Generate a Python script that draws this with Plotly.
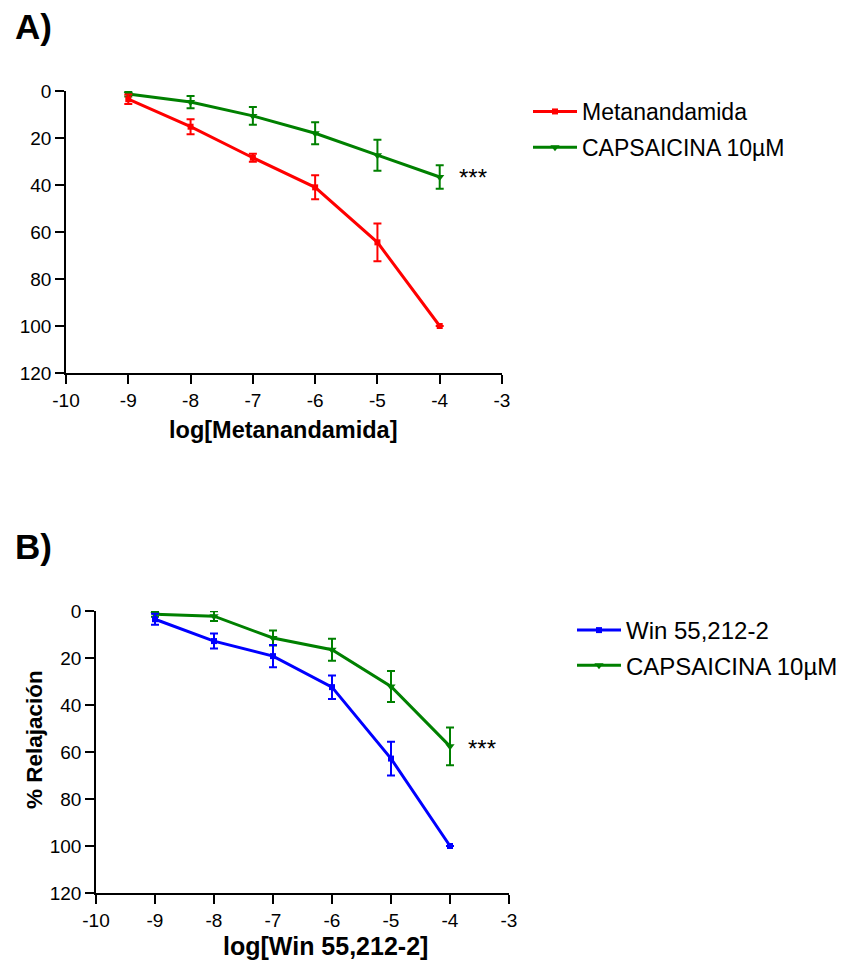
import plotly.graph_objects as go

# ---------------- data ----------------
log_conc = [-9, -8, -7, -6, -5, -4]

# Panel A
met_mean = [3.5, 15.2, 28.4, 41.0, 64.4, 100.0]
met_sem = [2.0, 3.2, 1.7, 5.1, 8.0, 0.0]
capA_mean = [1.3, 4.7, 10.6, 18.0, 27.3, 36.6]
capA_sem = [1.0, 2.6, 3.8, 4.7, 6.6, 5.0]

# Panel B
win_mean = [3.5, 12.8, 19.2, 32.4, 62.8, 100.0]
win_sem = [2.3, 3.2, 4.7, 5.0, 7.2, 0.0]
capB_mean = [1.4, 2.2, 11.5, 16.5, 32.1, 57.6]
capB_sem = [1.0, 2.1, 3.2, 4.7, 6.6, 8.0]

names_A = ["Metanandamida", "CAPSAICINA 10µM"]
names_B = ["Win 55,212-2", "CAPSAICINA 10µM"]
xtitle_A = "log[Metanandamida]"
xtitle_B = "log[Win 55,212-2]"
ytitle = "% Relajación"
x_ticks = [-10, -9, -8, -7, -6, -5, -4, -3]
x_ticktext = ["-10", "-9", "-8", "-7", "-6", "-5", "-4", "-3"]
y_ticks = [0, 20, 40, 60, 80, 100, 120]

RED = "#FF0000"
GREEN = "#008000"
BLUE = "#0000FF"
FONT = "Liberation Sans, Arial, sans-serif"

# page body has an 8px default margin: the figure sits at (8, 8)
OFF = 8
W, H = 844 - OFF, 963 - OFF


def px_x(p):
    return (p - OFF) / W


def px_y(p):
    return 1 - (p - OFF) / H


fig = go.Figure()


def add_series(x, y, e, name, color, symbol, msize, xa, ya, legend, rank):
    fig.add_trace(go.Scatter(
        x=x, y=y, name=name, mode="lines+markers",
        line=dict(color=color, width=3),
        marker=dict(color=color, symbol=symbol, size=msize),
        error_y=dict(type="data", array=e, visible=True, color=color,
                     thickness=2, width=4),
        xaxis=xa, yaxis=ya, legend=legend, legendrank=rank,
        legendgroup=legend + name,
    ))


# green drawn first (under), legend order via legendrank
add_series(log_conc, capA_mean, capA_sem, names_A[1], GREEN, "triangle-down", 8, "x", "y", "legend", 2)
add_series(log_conc, met_mean, met_sem, names_A[0], RED, "square", 6, "x", "y", "legend", 1)
add_series(log_conc, capB_mean, capB_sem, names_B[1], GREEN, "triangle-down", 8, "x2", "y2", "legend2", 2)
add_series(log_conc, win_mean, win_sem, names_B[0], BLUE, "square", 6, "x2", "y2", "legend2", 1)

axis_common = dict(
    showline=True, linecolor="black", linewidth=1.5,
    ticks="outside", ticklen=9, tickwidth=1.5, tickcolor="black",
    showgrid=False, zeroline=False, automargin=False,
    tickfont=dict(family=FONT, size=19, color="black"),
)

fig.update_layout(
    width=W, height=H,
    margin=dict(l=0, r=0, t=0, b=0, autoexpand=False),
    paper_bgcolor="white", plot_bgcolor="white",
    font=dict(family=FONT, color="black"),
    xaxis=dict(domain=[px_x(66), px_x(502)], range=[-10, -3], tickvals=x_ticks,
               ticktext=x_ticktext, anchor="y", **axis_common),
    yaxis=dict(domain=[px_y(373), px_y(91)], range=[120, 0], tickvals=y_ticks,
               anchor="x", **axis_common),
    xaxis2=dict(domain=[px_x(96), px_x(509)], range=[-10, -3], tickvals=x_ticks,
                ticktext=x_ticktext, anchor="y2", **axis_common),
    yaxis2=dict(domain=[px_y(893), px_y(611)], range=[120, 0], tickvals=y_ticks,
                anchor="x2", **axis_common),
    legend=dict(x=px_x(528), y=px_y(90), xanchor="left", yanchor="top",
                font=dict(family=FONT, size=23, color="black"),
                itemwidth=44, tracegroupgap=3, traceorder="grouped",
                bgcolor="rgba(0,0,0,0)"),
    legend2=dict(x=px_x(572), y=px_y(608), xanchor="left", yanchor="top",
                 font=dict(family=FONT, size=24, color="black"),
                 itemwidth=44, tracegroupgap=1, traceorder="grouped",
                 bgcolor="rgba(0,0,0,0)"),
    showlegend=True,
)

annotations = [
    dict(text="<b>A)</b>", x=px_x(13), y=px_y(27), xref="paper", yref="paper",
         xanchor="left", yanchor="middle", showarrow=False,
         font=dict(family=FONT, size=35, color="black")),
    dict(text="<b>B)</b>", x=px_x(13), y=px_y(546), xref="paper", yref="paper",
         xanchor="left", yanchor="middle", showarrow=False,
         font=dict(family=FONT, size=35, color="black")),
    dict(text="<b>" + xtitle_A + "</b>", x=px_x(283), y=px_y(430), xref="paper", yref="paper",
         xanchor="center", yanchor="middle", showarrow=False,
         font=dict(family=FONT, size=23.5, color="black")),
    dict(text="<b>" + xtitle_B + "</b>", x=px_x(325), y=px_y(946), xref="paper", yref="paper",
         xanchor="center", yanchor="middle", showarrow=False,
         font=dict(family=FONT, size=25, color="black")),
    dict(text="<b>" + ytitle + "</b>", x=px_x(34), y=px_y(740), xref="paper", yref="paper",
         xanchor="center", yanchor="middle", showarrow=False, textangle=-90,
         font=dict(family=FONT, size=22.5, color="black")),
    dict(text="***", x=-3.47, y=37, xref="x", yref="y", showarrow=False,
         xanchor="center", yanchor="middle",
         font=dict(family=FONT, size=24, color="black")),
    dict(text="***", x=-3.46, y=58.5, xref="x2", yref="y2", showarrow=False,
         xanchor="center", yanchor="middle",
         font=dict(family=FONT, size=24, color="black")),
]
fig.update_layout(annotations=annotations)

fig.write_html("out.html")
